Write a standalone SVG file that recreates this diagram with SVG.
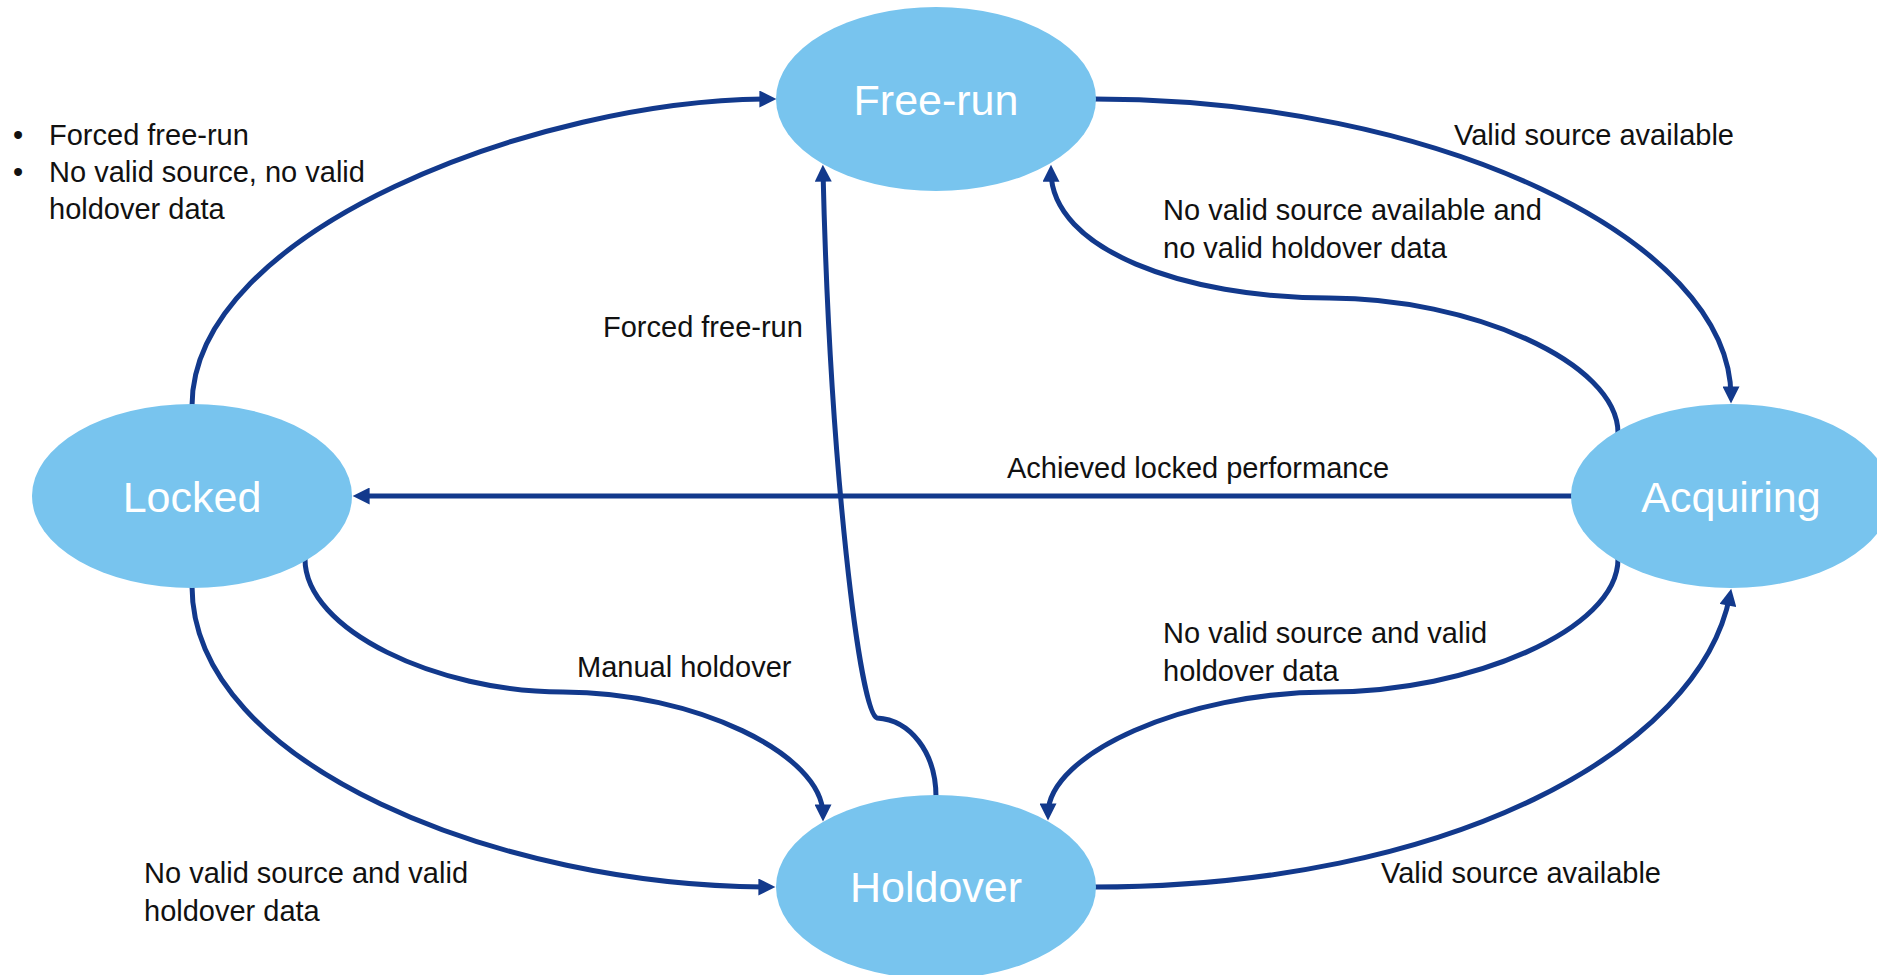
<svg xmlns="http://www.w3.org/2000/svg" width="1877" height="975" viewBox="0 0 1877 975">
<style>
.node{fill:#78C4EE}
.nlabel{fill:#FFFFFF;font-family:"Liberation Sans",Arial,sans-serif;font-size:43px;text-anchor:middle}
.lbl{fill:#111111;font-family:"Liberation Sans",Arial,sans-serif;font-size:29px}
.edge{fill:none;stroke:#12398C;stroke-width:5}
</style>
<defs>
<marker id="arr" markerUnits="userSpaceOnUse" markerWidth="18" markerHeight="17" refX="10" refY="8" orient="auto" viewBox="0 0 16 16">
<path d="M0,0 L16,8 L0,16 z" fill="#12398C"/>
</marker>
</defs>
<rect width="1877" height="975" fill="#FFFFFF"/>
<g id="connectors">
<path id="e-locked-freerun" class="edge" marker-end="url(#arr)" d="M192,406 C192,230 540,99 770,99"/>
<path id="e-freerun-acquiring" class="edge" marker-end="url(#arr)" d="M1094,99 C1436,99 1731,239 1731,397"/>
<path id="e-acquiring-freerun" class="edge" marker-end="url(#arr)" d="M1618,433 C1618,362 1470,298 1329,298 C1185,298 1051,250 1051,171"/>
<path id="e-acquiring-locked" class="edge" marker-end="url(#arr)" d="M1573,496 L359,496"/>
<path id="e-holdover-freerun" class="edge" marker-end="url(#arr)" d="M936,797 C936,752 910,720 877,718 C860,712 830,470 823,171"/>
<path id="e-locked-holdover-manual" class="edge" marker-end="url(#arr)" d="M305,559 C305,630 437,692 563,692 C694,692 823,754 823,815"/>
<path id="e-locked-holdover" class="edge" marker-end="url(#arr)" d="M192,586 C192,766 503,887 769,887"/>
<path id="e-acquiring-holdover" class="edge" marker-end="url(#arr)" d="M1618,559 C1618,630 1470,692 1329,692 C1185,692 1048,754 1048,814"/>
<path id="e-holdover-acquiring" class="edge" marker-end="url(#arr)" d="M1094,887 C1450,887 1700,750 1730,595"/>
</g>
<g id="labels">
<text class="lbl" x="13" y="145">•</text>
<text class="lbl" x="49" y="145">Forced free-run</text>
<text class="lbl" x="13" y="182">•</text>
<text class="lbl" x="49" y="182">No valid source, no valid</text>
<text class="lbl" x="49" y="219">holdover data</text>
<text class="lbl" x="1454" y="145">Valid source available</text>
<text class="lbl" x="1163" y="220">No valid source available and</text>
<text class="lbl" x="1163" y="258">no valid holdover data</text>
<text class="lbl" x="603" y="337">Forced free-run</text>
<text class="lbl" x="1007" y="478">Achieved locked performance</text>
<text class="lbl" x="577" y="677">Manual holdover</text>
<text class="lbl" x="1163" y="643">No valid source and valid</text>
<text class="lbl" x="1163" y="681">holdover data</text>
<text class="lbl" x="144" y="883">No valid source and valid</text>
<text class="lbl" x="144" y="921">holdover data</text>
<text class="lbl" x="1381" y="883">Valid source available</text>
</g>
<g id="node-freerun">
<ellipse class="node" cx="936" cy="99" rx="160" ry="92"/>
<text class="nlabel" x="936" y="115">Free-run</text>
</g>
<g id="node-locked">
<ellipse class="node" cx="192" cy="496" rx="160" ry="92"/>
<text class="nlabel" x="192" y="512">Locked</text>
</g>
<g id="node-acquiring">
<ellipse class="node" cx="1731" cy="496" rx="160" ry="92"/>
<text class="nlabel" x="1731" y="512">Acquiring</text>
</g>
<g id="node-holdover">
<ellipse class="node" cx="936" cy="887" rx="160" ry="92"/>
<text class="nlabel" x="936" y="902">Holdover</text>
</g>
</svg>
